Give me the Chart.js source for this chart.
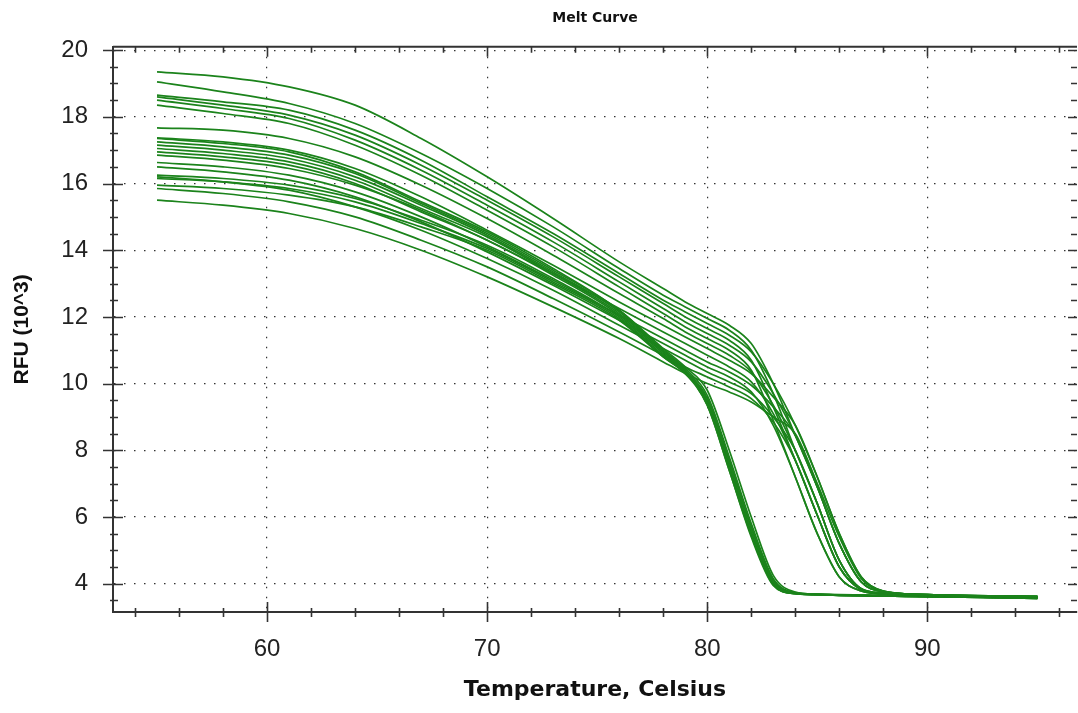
<!DOCTYPE html>
<html>
<head>
<meta charset="utf-8">
<title>Melt Curve</title>
<script src="https://cdn.jsdelivr.net/npm/chart.js@4.4.0/dist/chart.umd.min.js"></script>
<style>
  html, body { margin: 0; padding: 0; background: #fff; }
  #wrap { width: 1078px; height: 713px; }
</style>
</head>
<body>
<div id="wrap"><canvas id="meltChart"></canvas></div>
<script>
// temperature steps (Celsius) shared by every well
const temps = [55, 58, 61, 64, 67, 70, 73, 76, 78, 79, 80, 81, 82, 83, 84, 85, 86, 87, 88, 90, 95];

const xTicks = [60, 70, 80, 90];
const yTicks = [4, 6, 8, 10, 12, 14, 16, 18, 20];

// wells with the later melt (~84-85 C), RFU x10^3
const wellB01 = [19.35, 19.2, 18.9, 18.35, 17.35, 16.2, 14.95, 13.65, 12.85, 12.45, 12.1, 11.75, 11.2, 10.0, 8.45, 6.9, 5.2, 4.05, 3.76, 3.67, 3.62];
const wellB02 = [19.05, 18.75, 18.4, 17.8, 16.9, 15.85, 14.7, 13.45, 12.65, 12.3, 11.95, 11.6, 11.0, 9.7, 8.0, 6.4, 4.7, 3.85, 3.72, 3.66, 3.6];
const wellB03 = [18.65, 18.45, 18.2, 17.6, 16.7, 15.6, 14.5, 13.3, 12.5, 12.15, 11.8, 11.45, 10.95, 10.0, 8.75, 7.2, 5.5, 4.2, 3.78, 3.67, 3.61];
const wellB04 = [18.6, 18.35, 18.05, 17.45, 16.55, 15.5, 14.4, 13.2, 12.4, 12.0, 11.65, 11.3, 10.7, 9.3, 7.7, 6.05, 4.5, 3.82, 3.7, 3.66, 3.6];
const wellB05 = [18.5, 18.25, 17.95, 17.3, 16.4, 15.35, 14.25, 13.05, 12.25, 11.85, 11.5, 11.15, 10.65, 9.7, 8.45, 6.9, 5.2, 4.05, 3.76, 3.67, 3.61];
const wellB06 = [18.35, 18.1, 17.8, 17.15, 16.25, 15.2, 14.1, 12.9, 12.1, 11.7, 11.35, 11.0, 10.4, 8.9, 7.2, 5.5, 4.2, 3.78, 3.69, 3.65, 3.6];
const wellB07 = [17.67, 17.6, 17.35, 16.8, 15.95, 14.95, 13.85, 12.7, 11.95, 11.55, 11.2, 10.85, 10.35, 9.35, 8.0, 6.4, 4.7, 3.85, 3.72, 3.66, 3.61];
const wellB08 = [17.37, 17.25, 17.0, 16.45, 15.6, 14.6, 13.55, 12.45, 11.75, 11.4, 11.05, 10.7, 10.3, 9.6, 8.75, 7.2, 5.5, 4.2, 3.78, 3.67, 3.62];
const wellB09 = [16.85, 16.7, 16.45, 15.95, 15.2, 14.3, 13.3, 12.25, 11.55, 11.2, 10.85, 10.5, 10.05, 9.1, 7.7, 6.05, 4.5, 3.82, 3.7, 3.65, 3.6];
const wellB10 = [16.63, 16.5, 16.25, 15.75, 15.0, 14.1, 13.1, 12.05, 11.35, 11.0, 10.65, 10.35, 9.95, 9.3, 8.45, 6.9, 5.2, 4.05, 3.76, 3.66, 3.61];
const wellB11 = [16.5, 16.35, 16.1, 15.6, 14.85, 13.95, 12.95, 11.9, 11.2, 10.85, 10.5, 10.2, 9.75, 8.75, 7.2, 5.5, 4.2, 3.78, 3.69, 3.65, 3.59];
const wellB12 = [16.2, 16.05, 15.8, 15.3, 14.6, 13.75, 12.8, 11.75, 11.05, 10.7, 10.35, 10.05, 9.7, 9.0, 8.0, 6.4, 4.7, 3.85, 3.72, 3.66, 3.6];
const wellB13 = [15.85, 15.7, 15.45, 15.0, 14.3, 13.5, 12.55, 11.55, 10.85, 10.5, 10.2, 9.9, 9.55, 8.85, 7.7, 6.05, 4.5, 3.82, 3.7, 3.65, 3.59];
const wellB14 = [15.5, 15.35, 15.1, 14.65, 14.0, 13.2, 12.3, 11.35, 10.65, 10.3, 10.0, 9.75, 9.45, 9.0, 8.5, 7.0, 5.4, 4.15, 3.77, 3.67, 3.61];

// wells with the early melt (~81.5 C)
const wellA01 = [17.35, 17.2, 16.95, 16.35, 15.45, 14.55, 13.45, 12.2, 11.05, 10.5, 9.8, 8.0, 6.0, 4.25, 3.75, 3.69, 3.67, 3.66, 3.65, 3.63, 3.58];
const wellA02 = [17.25, 17.1, 16.85, 16.3, 15.4, 14.5, 13.4, 12.2, 11.0, 10.45, 9.65, 7.8, 5.8, 4.15, 3.73, 3.68, 3.66, 3.65, 3.64, 3.62, 3.57];
const wellA03 = [17.15, 17.0, 16.75, 16.2, 15.35, 14.45, 13.35, 12.15, 10.95, 10.4, 9.55, 7.65, 5.65, 4.05, 3.71, 3.68, 3.66, 3.65, 3.64, 3.62, 3.57];
const wellA04 = [17.05, 16.9, 16.65, 16.1, 15.25, 14.4, 13.3, 12.1, 10.95, 10.4, 9.45, 7.5, 5.5, 4.0, 3.7, 3.67, 3.65, 3.64, 3.63, 3.61, 3.56];
const wellA05 = [16.95, 16.8, 16.55, 16.0, 15.15, 14.3, 13.25, 12.05, 10.9, 10.35, 9.35, 7.4, 5.4, 3.95, 3.7, 3.67, 3.65, 3.64, 3.63, 3.61, 3.56];
const wellA06 = [16.25, 16.15, 15.95, 15.55, 14.9, 14.15, 13.15, 12.0, 10.85, 10.35, 9.55, 7.7, 5.7, 4.1, 3.72, 3.68, 3.66, 3.65, 3.64, 3.62, 3.57];
const wellA07 = [16.15, 16.05, 15.85, 15.45, 14.8, 14.05, 13.05, 11.95, 10.8, 10.3, 9.45, 7.55, 5.55, 4.0, 3.71, 3.67, 3.65, 3.64, 3.63, 3.61, 3.56];
const wellA08 = [15.95, 15.85, 15.65, 15.3, 14.7, 14.0, 13.0, 11.9, 10.8, 10.3, 9.35, 7.4, 5.45, 3.97, 3.7, 3.67, 3.65, 3.64, 3.63, 3.61, 3.56];

const wells = [
  wellB01, wellB02, wellB03, wellB04, wellB05, wellB06, wellB07,
  wellB08, wellB09, wellB10, wellB11, wellB12, wellB13, wellB14,
  wellA01, wellA02, wellA03, wellA04, wellA05, wellA06, wellA07, wellA08
];

const lineGreen = '#1b831b';
const axisDark = '#333333';

// box frame + inward/crossing tick marks like the instrument software
const frameTicks = {
  id: 'frameTicks',
  afterDraw(chart) {
    const { ctx, chartArea: a, scales: { x, y } } = chart;
    ctx.save();
    ctx.strokeStyle = axisDark;
    ctx.lineWidth = 2;
    ctx.beginPath();
    ctx.moveTo(a.left, a.top);
    ctx.lineTo(a.right, a.top);
    ctx.stroke();

    ctx.lineWidth = 1.6;
    for (let t = 54; t <= 96; t += 2) {
      const px = Math.round(x.getPixelForValue(t)) + 0.5;
      const major = xTicks.includes(t);
      ctx.beginPath();
      ctx.moveTo(px, a.bottom - (major ? 10 : 4));
      ctx.lineTo(px, a.bottom + (major ? 10 : 5));
      ctx.moveTo(px, a.top);
      ctx.lineTo(px, a.top + (major ? 10 : 6));
      ctx.stroke();
    }
    for (let v = 3.5; v <= 20; v += 0.5) {
      const py = Math.round(y.getPixelForValue(v)) + 0.5;
      const major = yTicks.includes(v);
      ctx.beginPath();
      ctx.moveTo(a.left - (major ? 10 : 3), py);
      ctx.lineTo(a.left + (major ? 10 : 5), py);
      ctx.moveTo(a.right, py);
      ctx.lineTo(a.right - (major ? 9 : 6), py);
      ctx.stroke();
    }
    ctx.restore();
  }
};

new Chart(document.getElementById('meltChart'), {
  type: 'line',
  data: {
    datasets: wells.map(w => ({
      data: temps.map((t, i) => ({ x: t, y: w[i] })),
      borderColor: lineGreen,
      borderWidth: 1.7,
      pointRadius: 0,
      cubicInterpolationMode: 'monotone',
      fill: false
    }))
  },
  options: {
    responsive: true,
    maintainAspectRatio: false,
    animation: false,
    layout: { padding: { left: 0, right: 1, top: 0, bottom: 0 } },
    plugins: {
      legend: { display: false },
      tooltip: { enabled: false },
      title: {
        display: true,
        text: 'Melt Curve',
        fullSize: false,
        color: '#111',
        font: { family: "'DejaVu Sans', sans-serif", size: 14, weight: 'bold' },
        padding: { top: 10, bottom: 20 }
      }
    },
    scales: {
      x: {
        type: 'linear',
        min: 53,
        max: 96.8,
        afterBuildTicks: s => { s.ticks = xTicks.map(v => ({ value: v })); },
        afterFit: s => { s.height = 101; },
        grid: { color: axisDark, lineWidth: 1.2, drawTicks: false },
        border: { display: true, color: axisDark, width: 2, dash: [1.5, 8.5] },
        ticks: {
          color: '#222',
          padding: 23,
          maxRotation: 0,
          font: { family: "'Liberation Sans', Arial, sans-serif", size: 24 }
        },
        title: {
          display: true,
          text: 'Temperature, Celsius',
          color: '#111',
          font: { family: "'DejaVu Sans', sans-serif", size: 22, weight: 'bold' },
          padding: { top: 0, bottom: 10 }
        }
      },
      y: {
        min: 3.15,
        max: 20.1,
        afterBuildTicks: s => { s.ticks = yTicks.map(v => ({ value: v })); },
        afterFit: s => { s.width = 113; },
        grid: { color: axisDark, lineWidth: 1.2, drawTicks: false },
        border: { display: true, color: axisDark, width: 2, dash: [1.5, 8.5] },
        ticks: {
          color: '#222',
          padding: 25,
          font: { family: "'Liberation Sans', Arial, sans-serif", size: 24 }
        },
        title: {
          display: true,
          text: 'RFU (10^3)',
          color: '#111',
          font: { family: "'Liberation Sans', Arial, sans-serif", size: 21, weight: 'bold' },
          padding: { top: 10, bottom: 0 }
        }
      }
    }
  },
  plugins: [frameTicks]
});
</script>
</body>
</html>
